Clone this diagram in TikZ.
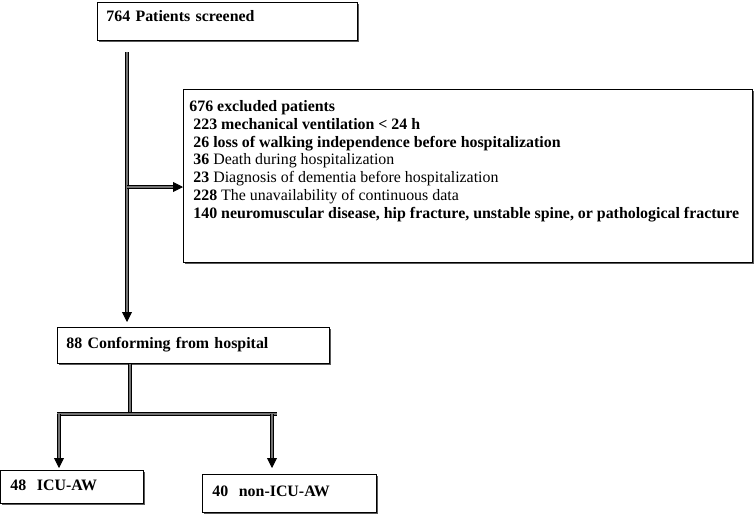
\documentclass[tikz,border=0pt]{standalone}
\usepackage{fontspec}
\setmainfont{Liberation Serif}
\usetikzlibrary{arrows.meta,shadows}

\tikzset{
  flowbox/.style={draw=black, line width=0.8pt, fill=white, anchor=north west,
    inner ysep=0pt, align=left,
    drop shadow={shadow xshift=2pt, shadow yshift=-2pt, fill=black!65, opacity=1},
    font=\bfseries\fontsize{15.9}{17.8}\selectfont},
  pipe/.style={draw=black, line width=0.9pt, double=black!55, double distance=1.3pt},
  tip/.style={-{Triangle[width=10pt,length=10pt]}}
}
\newcommand{\exline}[2]{\hspace*{4pt}#1 {\mdseries #2}}

\begin{document}
\begin{tikzpicture}[x=1pt,y=-1pt]
  \useasboundingbox (0,0) rectangle (756,515);

  % Boxes
  \node[flowbox, minimum width=260pt, minimum height=38pt, text width=242pt,
        inner xsep=9pt, text height=10pt, text depth=10pt] (scr) at (97,2)
        {764 Patients screened};
  \node[flowbox, minimum width=569pt, inner xsep=6pt, inner ysep=11pt] (excl) at (183,89)
        {\parbox[t][151pt][t]{557pt}{%
          676 excluded patients\\
          \hspace*{4pt}223 mechanical ventilation {\textless} 24 h\\
          \hspace*{4pt}26 loss of walking independence before hospitalization\\
          \exline{36}{Death during hospitalization}\\
          \exline{23}{Diagnosis of dementia before hospitalization}\\
          \exline{228}{The unavailability of continuous data}\\
          \hspace*{4pt}140 neuromuscular disease, hip fracture, unstable spine, or pathological fracture}};
  \node[flowbox, minimum width=270pt, minimum height=36pt, text width=254pt,
        inner xsep=9pt, text height=10pt, text depth=4pt] (conf) at (57,327)
        {88 Conforming from hospital};
  \node[flowbox, minimum width=137pt, minimum height=33pt, text width=123pt,
        inner xsep=10pt, text height=10pt, text depth=3pt] (icu) at (0,470)
        {48\ \ ICU-AW};
  \node[flowbox, minimum width=168pt, minimum height=38pt, text width=154pt,
        inner xsep=10pt, text height=10pt, text depth=3pt] (non) at (202,474)
        {40\ \ non-ICU-AW};

  % Connectors
  \coordinate (vtop) at (127,52);
  \coordinate (vbr) at (127,187);
  \draw[pipe, double distance=2.2pt, tip, shorten >=5pt] (vtop) -- (vtop |- conf.north);
  \draw[pipe, double distance=2.2pt, tip] (vbr) -- (vbr -| excl.west);

  \coordinate (split) at (130,414);
  \coordinate (bl) at (57,414);
  \coordinate (br) at (277,414);
  \coordinate (lft) at (59,414);
  \coordinate (rgt) at (272,414);
  \draw[pipe] (conf.south -| split) -- (split);
  \draw[pipe] (bl) -- (br);
  \draw[pipe, tip, shorten >=2pt] (lft) -- (lft |- icu.north);
  \draw[pipe, tip, shorten >=6pt] (rgt) -- (rgt |- non.north);
\end{tikzpicture}
\end{document}
